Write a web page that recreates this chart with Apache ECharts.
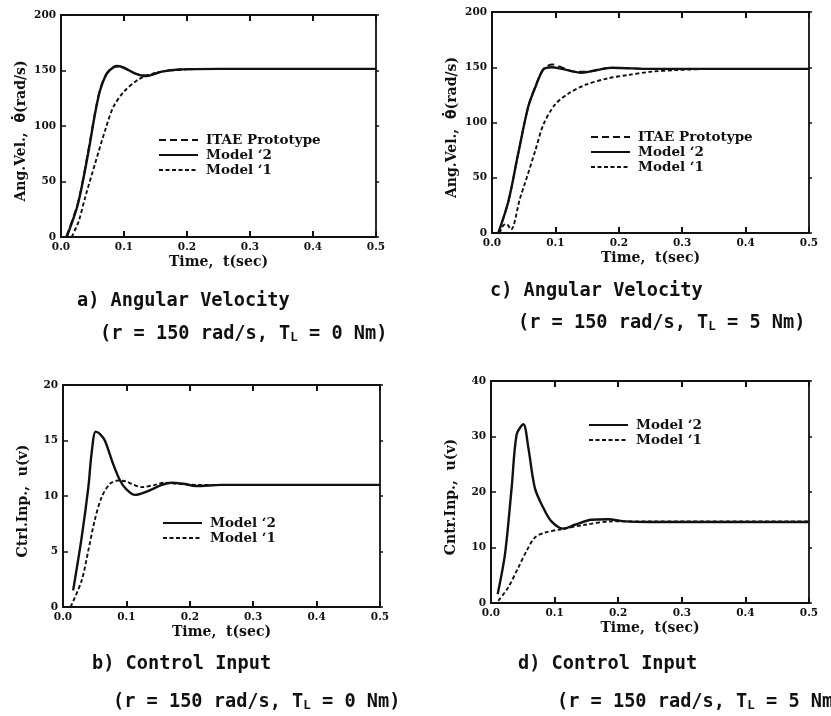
<!DOCTYPE html>
<html><head><meta charset="utf-8">
<script src="https://cdn.jsdelivr.net/npm/echarts@6/dist/echarts.min.js"></script>
<style>html,body{margin:0;padding:0;background:#fff;}#c{width:831px;height:716px;}</style>
</head><body><div id="c"></div>
<script>
// ---- tick labels ----
const xTickLabels = ['0.0', '0.1', '0.2', '0.3', '0.4', '0.5'];
const yTicksVel = ['0', '50', '100', '150', '200'];
const yTicksB = ['0', '5', '10', '15', '20'];
const yTicksD = ['0', '10', '20', '30', '40'];

// ---- legend names ----
const nameITAE = 'ITAE Prototype';
const nameM2 = 'Model \u20182';
const nameM1 = 'Model \u20181';

// ---- a) angular velocity, TL = 0 ----
const tA_itae = [0.008, 0.027, 0.043, 0.054, 0.062, 0.0725, 0.083, 0.09, 0.1, 0.117, 0.136, 0.16, 0.19, 0.25, 0.5];
const vA_itae = [0, 31, 77, 112, 133, 147.5, 152.5, 153.5, 152, 147.5, 145.5, 149, 151, 151.5, 151.5];
const tA_m2 = [0.009, 0.027, 0.043, 0.054, 0.062, 0.0725, 0.083, 0.09, 0.1, 0.117, 0.136, 0.16, 0.19, 0.25, 0.5];
const vA_m2 = [0, 30, 75, 111, 132, 147, 153, 154, 152.5, 147.5, 145, 149, 151, 151.5, 151.5];
const tA_m1 = [0.017, 0.028, 0.038, 0.054, 0.07, 0.083, 0.1, 0.123, 0.139, 0.16, 0.2, 0.25, 0.5];
const vA_m1 = [0, 14, 35, 66, 96, 117, 131, 142, 146, 149, 151, 151.5, 151.5];

// ---- c) angular velocity, TL = 5 ----
const tC_itae = [0.01, 0.026, 0.041, 0.057, 0.068, 0.081, 0.095, 0.11, 0.13, 0.15, 0.19, 0.25, 0.5];
const vC_itae = [0, 29, 71, 114, 132, 148.5, 152.5, 150, 146, 146, 149.5, 148.5, 148.5];
const tC_m2 = [0.01, 0.026, 0.041, 0.057, 0.068, 0.081, 0.094, 0.11, 0.1415, 0.165, 0.189, 0.25, 0.5];
const vC_m2 = [0, 29, 71, 114, 131.5, 148, 150, 148.5, 145, 147.5, 149.5, 148.5, 148.5];
const tC_m1 = [0.012, 0.018, 0.023, 0.03, 0.044, 0.052, 0.068, 0.081, 0.099, 0.12, 0.147, 0.183, 0.215, 0.252, 0.293, 0.35, 0.5];
const vC_m1 = [0, 7, 8, 3, 31, 45, 74, 98, 116, 126, 134, 140, 143, 146, 147.5, 148.5, 148.5];

// ---- b) control input, TL = 0 ----
const tB_m2 = [0.016, 0.0295, 0.04, 0.045, 0.0515, 0.058, 0.066, 0.079, 0.09, 0.1, 0.1136, 0.132, 0.156, 0.171, 0.19, 0.21, 0.25, 0.5];
const vB_m2 = [1.5, 6.3, 10.8, 13.8, 15.8, 15.6, 15.0, 12.9, 11.4, 10.6, 10.1, 10.4, 11.0, 11.2, 11.1, 10.9, 11.0, 11.0];
const tB_m1 = [0.012, 0.0295, 0.04, 0.05, 0.061, 0.074, 0.087, 0.1, 0.108, 0.124, 0.145, 0.161, 0.18, 0.21, 0.5];
const vB_m1 = [0, 2.4, 5.1, 7.8, 9.9, 11.1, 11.4, 11.3, 11.1, 10.8, 11.0, 11.2, 11.1, 11.0, 11.0];

// ---- d) control input, TL = 5 ----
const tD_m2 = [0.0105, 0.022, 0.0325, 0.0404, 0.051, 0.0587, 0.069, 0.082, 0.095, 0.1137, 0.132, 0.158, 0.1845, 0.211, 0.25, 0.5];
const vD_m2 = [1.6, 8.8, 20.8, 30.4, 32.2, 28.0, 20.7, 17.2, 14.7, 13.4, 14.1, 15.0, 15.1, 14.7, 14.6, 14.6];
const tD_m1 = [0.0115, 0.027, 0.043, 0.056, 0.069, 0.085, 0.111, 0.148, 0.19, 0.25, 0.5];
const vD_m1 = [0.4, 2.8, 6.4, 9.4, 11.8, 12.7, 13.3, 14.1, 14.7, 14.7, 14.7];

const INK = '#111';
const serif = 'DejaVu Serif';
const mono = 'DejaVu Sans Mono';

const grids = [
  { left: 61, top: 15, width: 315, height: 222 },   // a
  { left: 492, top: 12, width: 317, height: 221 },  // c
  { left: 63, top: 385, width: 317, height: 222 },  // b
  { left: 491, top: 381, width: 318, height: 222 }  // d
].map(g => Object.assign({ containLabel: false, outerBoundsMode: 'none' }, g));

const velName = 'Ang.Vel.,  {th|\u03B8\u0307}(rad/s)';
const yDefs = [
  { max: 200, interval: 50, labels: yTicksVel, name: velName },
  { max: 200, interval: 50, labels: yTicksVel, name: velName },
  { max: 20, interval: 5, labels: yTicksB, name: 'Ctrl.Inp.,  u(v)' },
  { max: 40, interval: 10, labels: yTicksD, name: 'Cntr.Inp.,  u(v)' }
];

const nameStyle = { fontFamily: serif, fontWeight: 'bold', fontSize: 14, color: INK };
const xAxis = [];
const yAxis = [];
for (let g = 0; g < 4; g++) {
  xAxis.push({
    type: 'value', gridIndex: g, min: 0, max: 0.5, interval: 0.1, position: 'bottom',
    name: 'Time,  t(sec)', nameLocation: 'middle', nameGap: 18,
    nameTextStyle: Object.assign({ verticalAlign: 'top' }, nameStyle),
    axisLine: { show: true, onZero: false, lineStyle: { color: INK, width: 2 } },
    axisTick: { show: true, inside: true, length: 6, lineStyle: { color: INK, width: 2 } },
    splitLine: { show: false },
    axisLabel: { show: true, margin: 5, showMinLabel: true, showMaxLabel: true,
      fontFamily: serif, fontWeight: 'bold', fontSize: 10.5, color: INK,
      formatter: v => xTickLabels[Math.round(v / 0.1)] }
  });
  xAxis.push({
    type: 'value', gridIndex: g, min: 0, max: 0.5, interval: 0.1, position: 'top',
    axisLine: { show: true, onZero: false, lineStyle: { color: INK, width: 1.8 } },
    axisTick: { show: true, inside: true, length: 6, lineStyle: { color: INK, width: 2 } },
    splitLine: { show: false }, axisLabel: { show: false }
  });
  const d = yDefs[g];
  yAxis.push({
    type: 'value', gridIndex: g, min: 0, max: d.max, interval: d.interval, position: 'left',
    name: d.name, nameLocation: 'middle', nameGap: 33, nameRotate: 90,
    nameTextStyle: Object.assign({ padding: [0, 10, 0, 0], rich: { th: { fontFamily: 'DejaVu Sans', fontWeight: 'bold', fontSize: 14, color: INK } } }, nameStyle),
    axisLine: { show: true, onZero: false, lineStyle: { color: INK, width: 2 } },
    axisTick: { show: true, inside: true, length: 5, lineStyle: { color: INK, width: 1.5 } },
    splitLine: { show: false },
    axisLabel: { show: true, margin: 5, showMinLabel: true, showMaxLabel: true,
      fontFamily: serif, fontWeight: 'bold', fontSize: 10.5, color: INK,
      formatter: v => d.labels[Math.round(v / d.interval)] }
  });
  yAxis.push({
    type: 'value', gridIndex: g, min: 0, max: d.max, interval: d.interval, position: 'right',
    axisLine: { show: true, onZero: false, lineStyle: { color: INK, width: 1.8 } },
    axisTick: { show: true, inside: false, length: 3, lineStyle: { color: INK, width: 1.5 } },
    splitLine: { show: false }, axisLabel: { show: false }
  });
}

const styles = {
  itae: { color: INK, width: 1.8, type: [7, 4] },
  m2: { color: INK, width: 2.4, type: 'solid' },
  m1: { color: INK, width: 1.9, type: [4, 2.5] }
};
function ser(name, t, v, g, st, z) {
  return {
    type: 'line', name: name, xAxisIndex: g * 2, yAxisIndex: g * 2,
    data: t.map((x, i) => [x, v[i]]), symbol: 'none', showSymbol: false, smooth: 0.3,
    lineStyle: styles[st], itemStyle: { color: INK }, z: z, animation: false
  };
}
const series = [
  ser(nameITAE, tA_itae, vA_itae, 0, 'itae', 2),
  ser(nameM2, tA_m2, vA_m2, 0, 'm2', 3),
  ser(nameM1, tA_m1, vA_m1, 0, 'm1', 2),
  ser(nameITAE, tC_itae, vC_itae, 1, 'itae', 2),
  ser(nameM2, tC_m2, vC_m2, 1, 'm2', 3),
  ser(nameM1, tC_m1, vC_m1, 1, 'm1', 2),
  ser(nameM2, tB_m2, vB_m2, 2, 'm2', 3),
  ser(nameM1, tB_m1, vB_m1, 2, 'm1', 2),
  ser(nameM2, tD_m2, vD_m2, 3, 'm2', 3),
  ser(nameM1, tD_m1, vD_m1, 3, 'm1', 2)
];

function leg(left, top, data) {
  return {
    orient: 'vertical', left: left, top: top, data: data, padding: 0,
    itemWidth: 39, itemHeight: 12, itemGap: 1, selectedMode: false,
    itemStyle: { opacity: 0, borderWidth: 0 },
    textStyle: { fontFamily: serif, fontWeight: 'bold', fontSize: 13.5, color: INK, padding: [0, 0, 0, 3] }
  };
}
const legend = [
  leg(158, 133, [nameITAE, nameM2, nameM1]),
  leg(590, 130, [nameITAE, nameM2, nameM1]),
  leg(162, 516, [nameM2, nameM1]),
  leg(588, 418, [nameM2, nameM1])
];

const capRich = {
  m: { fontFamily: mono, fontWeight: 'bold', fontSize: 18.6, color: INK },
  s: { fontFamily: mono, fontWeight: 'bold', fontSize: 12.5, color: INK, padding: [6, 0, 0, 0] }
};
function cap(text, left, top) {
  return { text: text, left: left, top: top, padding: 0,
    textStyle: { rich: capRich, fontFamily: mono, fontSize: 18.6, color: INK, fontWeight: 'bold' } };
}
const title = [
  cap('{m|a) Angular Velocity}', 77, 292),
  cap('{m|(r = 150 rad/s, T}{s|L}{m| = 0 Nm)}', 100, 325),
  cap('{m|c) Angular Velocity}', 490, 282),
  cap('{m|(r = 150 rad/s, T}{s|L}{m| = 5 Nm)}', 518, 314),
  cap('{m|b) Control Input}', 92, 655),
  cap('{m|(r = 150 rad/s, T}{s|L}{m| = 0 Nm)}', 113, 693),
  cap('{m|d) Control Input}', 518, 655),
  cap('{m|(r = 150 rad/s, T}{s|L}{m| = 5 Nm)}', 557, 693)
];

const chart = echarts.init(document.getElementById('c'), null, { renderer: 'canvas' });
chart.setOption({
  backgroundColor: '#fff', animation: false,
  grid: grids, xAxis: xAxis, yAxis: yAxis, series: series, legend: legend, title: title
});
</script>
</body></html>
